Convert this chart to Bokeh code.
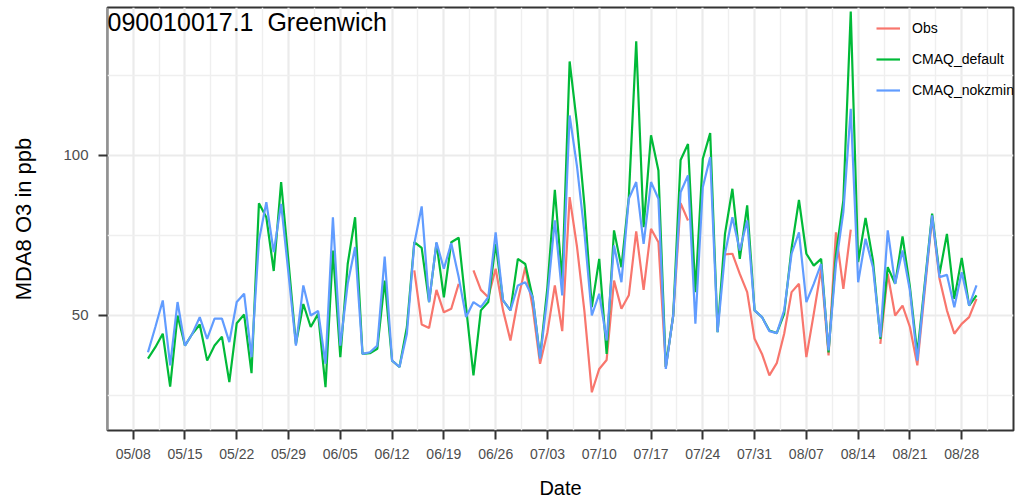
import numpy as np
import pandas as pd
from bokeh.plotting import figure
from bokeh.models import (ColumnDataSource, FixedTicker, DatetimeTickFormatter,
                          Range1d, Legend, LegendItem, Label)
from bokeh.embed import file_html
from bokeh.resources import INLINE

nan = np.nan

# Daily series, one value per day starting at first_day
first_day = "2017-05-10"

obs = [
    nan, nan, nan, nan, nan, nan, nan, nan, nan, nan,
    nan, nan, nan, nan, nan, nan, nan, nan, nan, nan,
    nan, nan, nan, nan, nan, nan, nan, nan, nan, nan,
    nan, nan, nan, nan, nan, nan, 64.1, 47.2, 46.1, 58.0,
    51.0, 52.1, 59.9, nan, 64.1, 58.0, 55.7, 64.6, 51.6, 42.2,
    54.7, 65.1, 52.6, 34.9, 44.8, 59.4, 45.1, 87.0, 71.4, 51.3,
    26.0, 33.3, 36.1, 60.9, 52.1, 56.3, 76.3, 58.0, 77.1, 72.9,
    33.9, 50.0, 85.1, 79.7, nan, nan, nan, nan, 69.1, 69.3,
    63.0, 57.3, 42.7, 38.0, 31.3, 35.1, 44.3, 57.3, 59.9, 37.0,
    50.5, 64.6, 37.5, 76.0, 58.3, 76.8, nan, nan, nan, 41.1,
    63.0, 50.0, 53.1, 46.4, 34.4, 57.8, 80.7, 61.5, 51.6, 44.3,
    47.4, 49.5, 55.2,
]

cmaq_default = [
    36.5, 40.1, 44.3, 27.8, 50.0, 40.6, 44.3, 47.2, 35.9, 40.6,
    43.4, 29.2, 47.6, 50.3, 32.0, 85.1, 80.7, 63.9, 91.7, 66.7,
    41.1, 53.6, 46.4, 50.5, 27.6, 70.3, 37.0, 66.1, 80.7, 38.0,
    38.2, 39.6, 60.9, 35.9, 33.9, 46.4, 72.9, 71.1, 54.2, 72.6,
    55.7, 72.9, 74.3, 52.6, 31.3, 51.6, 54.2, 72.4, 54.7, 51.6,
    67.7, 66.1, 55.7, 37.0, 58.9, 89.3, 60.9, 129.4, 109.7, 84.5,
    52.6, 67.7, 38.0, 76.6, 65.1, 87.0, 135.7, 77.6, 106.3, 95.3,
    33.9, 50.0, 98.6, 103.6, 57.3, 99.0, 107.0, 44.8, 75.5, 89.6,
    67.7, 84.4, 51.6, 49.5, 45.3, 44.5, 50.5, 71.0, 86.1, 69.3,
    65.6, 67.7, 38.5, 69.0, 86.0, 145.0, 66.7, 80.5, 67.2, 42.7,
    65.1, 59.9, 74.7, 58.9, 38.0, 59.9, 81.8, 63.0, 75.5, 55.2,
    68.0, 53.1, 56.3,
]

cmaq_nokzmin = [
    38.5, 46.4, 54.7, 34.4, 54.2, 40.6, 44.3, 49.5, 42.7, 49.0,
    49.0, 41.7, 54.2, 56.8, 37.0, 73.4, 85.4, 69.8, 84.9, 63.0,
    40.6, 59.4, 50.0, 51.4, 34.9, 80.7, 40.6, 59.9, 71.4, 38.0,
    38.5, 40.6, 68.4, 35.9, 33.9, 44.3, 72.4, 84.1, 54.2, 72.9,
    64.6, 72.6, 62.0, 49.5, 54.2, 52.6, 55.7, 76.0, 54.7, 51.6,
    59.4, 60.4, 55.7, 36.5, 56.0, 79.7, 56.3, 112.5, 96.5, 75.9,
    50.0, 56.8, 42.2, 71.9, 60.4, 86.5, 91.7, 72.4, 91.7, 86.5,
    33.3, 50.0, 88.5, 93.8, 47.4, 90.1, 99.5, 44.8, 69.3, 80.7,
    70.3, 79.7, 51.6, 49.5, 45.1, 44.5, 51.6, 69.3, 76.0, 54.2,
    59.9, 66.1, 39.1, 66.0, 82.3, 114.6, 60.4, 74.0, 65.1, 43.2,
    76.6, 59.9, 70.3, 57.8, 35.9, 58.9, 81.3, 62.0, 62.7, 52.6,
    63.5, 53.1, 59.4,
]

series_names = ["Obs", "CMAQ_default", "CMAQ_nokzmin"]
series_colors = ["#F8766D", "#00BA38", "#619CFF"]

year = "2017"
x_tick_labels = ["05/08", "05/15", "05/22", "05/29", "06/05", "06/12", "06/19",
                 "06/26", "07/03", "07/10", "07/17", "07/24", "07/31", "08/07",
                 "08/14", "08/21", "08/28"]
y_ticks = [50, 100]
y_minor_ticks = [25, 75, 125]

# a no-break space keeps the double gap between site id and name
site_title = "090010017.1\u00a0 Greenwich"
x_title = "Date"
y_title = "MDA8 O3 in ppb"

FONT = "Liberation Sans"
MS_PER_DAY = 86400000.0


def to_ms(ts):
    return (pd.Timestamp(ts) - pd.Timestamp("1970-01-01")) / pd.Timedelta(milliseconds=1)


dates = pd.date_range(first_day, periods=len(cmaq_default), freq="D")
src = ColumnDataSource(data=dict(
    date=dates,
    obs=np.array(obs, dtype=float),
    cmaq_default=np.array(cmaq_default, dtype=float),
    cmaq_nokzmin=np.array(cmaq_nokzmin, dtype=float),
))

major_ms = [to_ms(f"{year}/{lab}") for lab in x_tick_labels]
minor_ms = sorted(set([m - 3.5 * MS_PER_DAY for m in major_ms] +
                      [m + 3.5 * MS_PER_DAY for m in major_ms]))

x_start = major_ms[0] - 3.47 * MS_PER_DAY
x_end = major_ms[-1] + 7.0 * MS_PER_DAY
y_start, y_end = 14.06, 146.25

p = figure(width=1017, height=502, x_axis_type="datetime",
           output_backend="svg", toolbar_location=None,
           x_range=Range1d(x_start, x_end), y_range=Range1d(y_start, y_end),
           min_border_left=107, min_border_right=4,
           min_border_top=7, min_border_bottom=72)
p.background_fill_color = "white"
p.border_fill_color = "white"
p.outline_line_color = "#333333"
p.outline_line_width = 2

# axes
p.xaxis.ticker = FixedTicker(ticks=major_ms, minor_ticks=minor_ms)
p.xaxis.formatter = DatetimeTickFormatter(days="%m/%d", months="%m/%d",
                                          hours="%m/%d", years="%m/%d")
p.yaxis.ticker = FixedTicker(ticks=y_ticks, minor_ticks=y_minor_ticks)

for ax in (p.xaxis[0], p.yaxis[0]):
    ax.axis_line_color = None
    ax.major_tick_line_color = "#333333"
    ax.major_tick_line_width = 2
    ax.major_tick_out = 9
    ax.major_tick_in = 0
    ax.minor_tick_line_color = None
    ax.major_label_text_font = FONT
    ax.major_label_text_color = "#4D4D4D"
    ax.axis_label_text_font = FONT
    ax.axis_label_text_font_style = "normal"
    ax.axis_label_text_color = "black"

p.xaxis.major_label_text_font_size = "14px"
p.yaxis.major_label_text_font_size = "15px"
p.xaxis.axis_label_text_font_size = "20px"
p.yaxis.axis_label_text_font_size = "22px"

p.xaxis.axis_label = x_title
p.yaxis.axis_label = y_title
p.xaxis.major_label_standoff = 6
p.xaxis.axis_label_standoff = 12
p.yaxis.major_label_standoff = 10
p.yaxis.axis_label_standoff = 24

# grid
for g in (p.xgrid[0], p.ygrid[0]):
    g.grid_line_color = "#EBEBEB"
    g.grid_line_width = 2.2
    g.minor_grid_line_color = "#EFEFEF"
    g.minor_grid_line_width = 1.4

# series
renderers = []
for col, name, color in zip(["obs", "cmaq_default", "cmaq_nokzmin"],
                            series_names, series_colors):
    r = p.line("date", col, source=src, line_color=color, line_width=2.2)
    renderers.append(r)

legend = Legend(items=[LegendItem(label=n, renderers=[r])
                       for n, r in zip(series_names, renderers)],
                location=(769, 330), orientation="vertical",
                glyph_width=24, glyph_height=20, label_height=20,
                label_standoff=12, spacing=11, padding=5, margin=0,
                border_line_color=None, background_fill_alpha=0,
                label_text_font=FONT, label_text_font_size="14px",
                label_text_color="black")
p.add_layout(legend)

title_label = Label(x=x_start, y=y_end, text=site_title,
                    text_align="left", text_baseline="top",
                    text_font=FONT, text_font_size="25px", text_color="black")
p.add_layout(title_label)

open("out.html", "w").write(file_html(p, INLINE))
